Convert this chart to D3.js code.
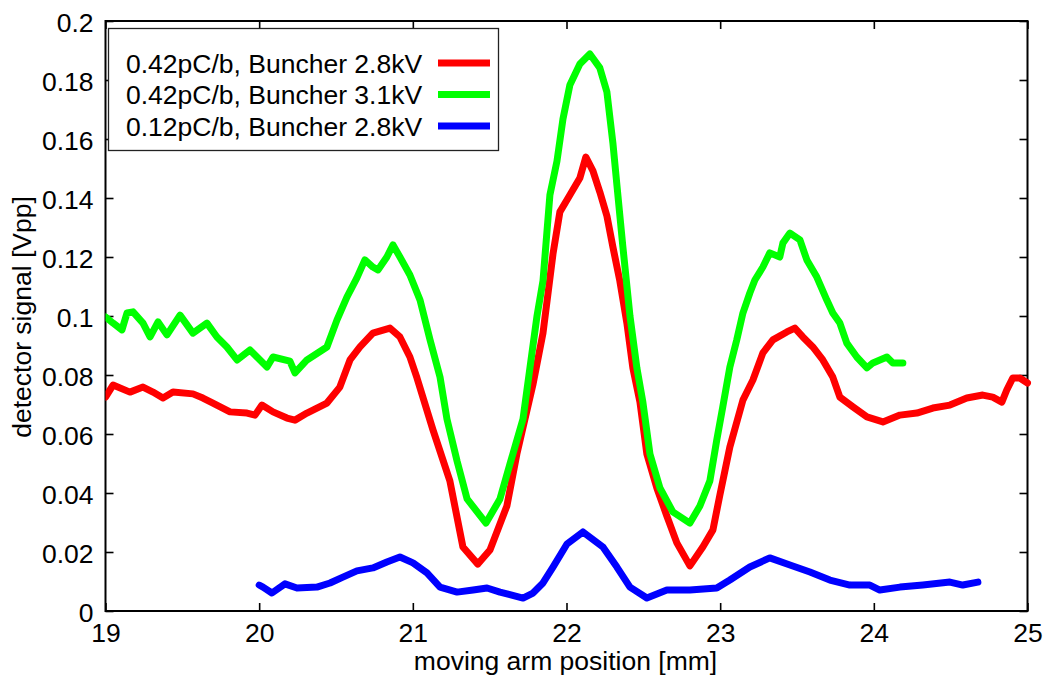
<!DOCTYPE html>
<html>
<head>
<meta charset="utf-8">
<script src="https://cdn.jsdelivr.net/npm/d3@7"></script>
<style>
  html, body { margin: 0; padding: 0; background: #fff; }
  svg { display: block; font-family: "Liberation Sans", Arial, Helvetica, sans-serif; }
</style>
</head>
<body>
<svg id="chart" width="1049" height="678"></svg>
<script>
// Scan of the detector signal versus moving-arm position, three beam settings.

const seriesNames = [
  "0.42pC/b, Buncher 2.8kV",
  "0.42pC/b, Buncher 3.1kV",
  "0.12pC/b, Buncher 2.8kV"
];
const seriesColors = ["#ff0000", "#00ff00", "#0000ff"];

const xTicks = [19, 20, 21, 22, 23, 24, 25];
const yTicks = [0, 0.02, 0.04, 0.06, 0.08, 0.1, 0.12, 0.14, 0.16, 0.18, 0.2];

// 0.42pC/b, Buncher 2.8kV
const redX = [19.0, 19.049, 19.159, 19.244, 19.309, 19.374, 19.439, 19.569, 19.634, 19.699, 19.810, 19.921, 19.973, 20.018, 20.090, 20.181, 20.233, 20.311, 20.441, 20.525, 20.591, 20.656, 20.740, 20.851, 20.916, 20.981, 21.027, 21.131, 21.241, 21.326, 21.423, 21.502, 21.612, 21.677, 21.781, 21.847, 21.912, 21.957, 22.022, 22.087, 22.126, 22.172, 22.217, 22.263, 22.302, 22.347, 22.393, 22.432, 22.478, 22.523, 22.588, 22.653, 22.718, 22.803, 22.887, 22.953, 22.998, 23.063, 23.148, 23.213, 23.278, 23.343, 23.434, 23.486, 23.538, 23.603, 23.668, 23.733, 23.779, 23.864, 23.955, 24.059, 24.170, 24.280, 24.384, 24.495, 24.605, 24.709, 24.774, 24.833, 24.865, 24.904, 24.950, 25.0];
const redY = [0.0725, 0.0766, 0.0742, 0.0759, 0.0742, 0.0722, 0.0742, 0.0736, 0.0722, 0.0705, 0.0675, 0.0671, 0.0664, 0.0698, 0.0675, 0.0654, 0.0647, 0.0671, 0.0705, 0.0759, 0.0851, 0.0895, 0.0942, 0.0959, 0.0929, 0.0861, 0.0790, 0.0614, 0.0441, 0.0217, 0.0159, 0.0207, 0.0356, 0.0532, 0.0766, 0.0942, 0.1210, 0.1353, 0.1410, 0.1468, 0.1539, 0.1492, 0.1420, 0.1339, 0.1234, 0.1119, 0.0976, 0.0824, 0.0708, 0.0532, 0.0417, 0.0322, 0.0231, 0.0153, 0.0217, 0.0275, 0.0393, 0.0556, 0.0715, 0.0783, 0.0875, 0.0919, 0.0946, 0.0959, 0.0929, 0.0895, 0.0851, 0.0793, 0.0725, 0.0692, 0.0658, 0.0641, 0.0664, 0.0671, 0.0688, 0.0698, 0.0722, 0.0732, 0.0725, 0.0708, 0.0749, 0.0790, 0.0790, 0.0773];

// 0.42pC/b, Buncher 3.1kV
const greenX = [19.0, 19.049, 19.107, 19.140, 19.179, 19.244, 19.290, 19.342, 19.400, 19.485, 19.569, 19.660, 19.725, 19.790, 19.856, 19.940, 20.051, 20.090, 20.200, 20.233, 20.311, 20.441, 20.506, 20.571, 20.636, 20.688, 20.740, 20.773, 20.831, 20.871, 20.916, 20.981, 21.047, 21.112, 21.177, 21.222, 21.288, 21.353, 21.476, 21.567, 21.632, 21.717, 21.762, 21.808, 21.847, 21.892, 21.938, 21.977, 22.022, 22.087, 22.152, 22.217, 22.263, 22.302, 22.328, 22.367, 22.413, 22.458, 22.497, 22.543, 22.608, 22.692, 22.803, 22.868, 22.933, 22.978, 23.017, 23.063, 23.108, 23.148, 23.193, 23.226, 23.278, 23.323, 23.388, 23.408, 23.454, 23.519, 23.564, 23.629, 23.694, 23.733, 23.779, 23.824, 23.889, 23.955, 23.994, 24.085, 24.124, 24.189];
const greenY = [0.0997, 0.0976, 0.0953, 0.1010, 0.1014, 0.0976, 0.0929, 0.0980, 0.0936, 0.1003, 0.0942, 0.0976, 0.0929, 0.0895, 0.0851, 0.0885, 0.0827, 0.0861, 0.0847, 0.0807, 0.0851, 0.0895, 0.0986, 0.1064, 0.1129, 0.1190, 0.1166, 0.1156, 0.1200, 0.1241, 0.1200, 0.1139, 0.1054, 0.0919, 0.0793, 0.0651, 0.0508, 0.0380, 0.0298, 0.0380, 0.0498, 0.0651, 0.0824, 0.1000, 0.1119, 0.1410, 0.1525, 0.1668, 0.1783, 0.1854, 0.1888, 0.1841, 0.1759, 0.1586, 0.1444, 0.1234, 0.1000, 0.0824, 0.0708, 0.0532, 0.0417, 0.0336, 0.0298, 0.0356, 0.0441, 0.0580, 0.0692, 0.0827, 0.0919, 0.1010, 0.1078, 0.1122, 0.1166, 0.1214, 0.1200, 0.1247, 0.1281, 0.1258, 0.1190, 0.1132, 0.1054, 0.1010, 0.0976, 0.0908, 0.0861, 0.0824, 0.0841, 0.0861, 0.0841, 0.0841];

// 0.12pC/b, Buncher 2.8kV
const blueX = [20.0, 20.025, 20.083, 20.168, 20.246, 20.376, 20.461, 20.545, 20.636, 20.740, 20.831, 20.916, 21.001, 21.092, 21.177, 21.288, 21.392, 21.483, 21.567, 21.717, 21.782, 21.847, 21.912, 22.003, 22.107, 22.237, 22.328, 22.413, 22.523, 22.653, 22.803, 22.978, 23.063, 23.193, 23.323, 23.454, 23.584, 23.714, 23.844, 23.974, 24.039, 24.170, 24.319, 24.495, 24.579, 24.677];
const blueY = [0.0088, 0.0081, 0.0061, 0.0092, 0.0078, 0.0081, 0.0095, 0.0115, 0.0136, 0.0146, 0.0166, 0.0183, 0.0163, 0.0129, 0.0081, 0.0064, 0.0071, 0.0078, 0.0064, 0.0044, 0.0061, 0.0095, 0.0149, 0.0227, 0.0268, 0.0217, 0.0149, 0.0081, 0.0044, 0.0071, 0.0071, 0.0078, 0.0105, 0.0149, 0.0180, 0.0156, 0.0132, 0.0105, 0.0088, 0.0088, 0.0071, 0.0081, 0.0088, 0.0098, 0.0088, 0.0098];

const series = [
  { name: seriesNames[0], color: seriesColors[0], xs: redX, ys: redY },
  { name: seriesNames[1], color: seriesColors[1], xs: greenX, ys: greenY },
  { name: seriesNames[2], color: seriesColors[2], xs: blueX, ys: blueY }
];

const plot = { left: 105.5, right: 1027.5, top: 21, bottom: 611 };
const fontSize = 26.5;
const fontFamily = "\"Liberation Sans\", Arial, Helvetica, sans-serif";

const svg = d3.select("#chart");

const x = d3.scaleLinear().domain([19, 25]).range([plot.left, plot.right]);
const y = d3.scaleLinear().domain([0, 0.2]).range([plot.bottom, plot.top]);

const fmtY = d => d === 0 ? "0" : String(+d.toFixed(2));

// clip region for data lines
svg.append("defs").append("clipPath").attr("id", "plotclip")
  .append("rect")
  .attr("x", plot.left).attr("y", plot.top - 5)
  .attr("width", plot.right - plot.left + 4)
  .attr("height", plot.bottom - plot.top + 5);

const tickLen = 8;

// bottom axis with labels, ticks pointing inward
const xAxis = svg.append("g")
  .attr("transform", `translate(0,${plot.bottom})`)
  .call(d3.axisBottom(x).tickValues(xTicks).tickSize(-tickLen).tickPadding(12).tickFormat(d3.format("d")));
// top mirror ticks
const xAxisTop = svg.append("g")
  .attr("transform", `translate(0,${plot.top})`)
  .call(d3.axisTop(x).tickValues(xTicks).tickSize(-tickLen).tickFormat(""));
// left axis
const yAxis = svg.append("g")
  .attr("transform", `translate(${plot.left},0)`)
  .call(d3.axisLeft(y).tickValues(yTicks).tickSize(-tickLen).tickPadding(12).tickFormat(fmtY));
// right mirror ticks
const yAxisRight = svg.append("g")
  .attr("transform", `translate(${plot.right},0)`)
  .call(d3.axisRight(y).tickValues(yTicks).tickSize(-tickLen).tickFormat(""));

[xAxis, xAxisTop, yAxis, yAxisRight].forEach(g => {
  g.select(".domain").remove();
  g.selectAll(".tick line").attr("stroke", "#000").attr("stroke-width", 1.6);
  g.selectAll("text").attr("fill", "#000").attr("font-size", fontSize)
    .attr("font-family", fontFamily);
});
yAxis.selectAll("text").attr("dy", "0.38em");

// frame around the plotting area
svg.append("rect")
  .attr("x", plot.left).attr("y", plot.top)
  .attr("width", plot.right - plot.left).attr("height", plot.bottom - plot.top)
  .attr("fill", "none").attr("stroke", "#000").attr("stroke-width", 2);

// data lines
const line = d3.line()
  .x(d => x(d[0]))
  .y(d => y(d[1]));

const lines = svg.append("g").attr("clip-path", "url(#plotclip)");
series.forEach(s => {
  const pts = s.xs.map((v, i) => [v, s.ys[i]]);
  lines.append("path")
    .datum(pts)
    .attr("d", line)
    .attr("fill", "none")
    .attr("stroke", s.color)
    .attr("stroke-width", 7)
    .attr("stroke-linejoin", "round")
    .attr("stroke-linecap", "round");
});

// legend
const legend = svg.append("g");
legend.append("rect")
  .attr("x", 108.5).attr("y", 28.5)
  .attr("width", 390).attr("height", 122)
  .attr("fill", "#fff").attr("stroke", "#222").attr("stroke-width", 1.3);

series.forEach((s, i) => {
  const cy = 63 + i * 31.5;
  legend.append("text")
    .attr("x", 126).attr("y", cy)
    .attr("dy", "0.36em")
    .attr("font-size", fontSize)
    .attr("fill", "#000")
    .text(s.name);
  legend.append("line")
    .attr("x1", 438).attr("x2", 490)
    .attr("y1", cy).attr("y2", cy)
    .attr("stroke", s.color).attr("stroke-width", 7);
});

// axis titles
svg.append("text")
  .attr("x", 565.5)
  .attr("y", 670)
  .attr("text-anchor", "middle")
  .attr("font-size", fontSize)
  .attr("fill", "#000")
  .text("moving arm position [mm]");

svg.append("text")
  .attr("transform", `translate(31,317) rotate(-90)`)
  .attr("text-anchor", "middle")
  .attr("font-size", fontSize)
  .attr("fill", "#000")
  .text("detector signal [Vpp]");
</script>
</body>
</html>
